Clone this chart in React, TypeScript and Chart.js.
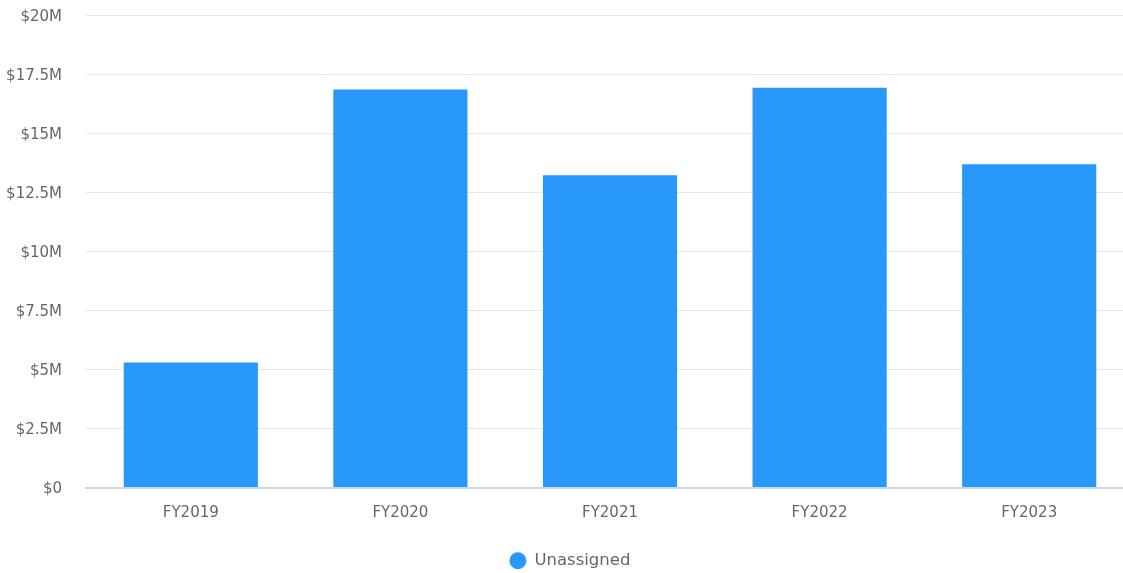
import React, { useEffect, useRef } from "react";
import { Chart, registerables } from "chart.js";

Chart.register(...registerables);

const categories = ["FY2019", "FY2020", "FY2021", "FY2022", "FY2023"];
const seriesName = "Unassigned";
const values = [5.29e6, 16.85e6, 13.22e6, 16.92e6, 13.68e6];
const yTicks = [0, 2.5e6, 5e6, 7.5e6, 10e6, 12.5e6, 15e6, 17.5e6, 20e6];

const fontFamily = "'DejaVu Sans', 'Noto Sans', sans-serif";
const textColor = "#666666";

// The drawing surface runs a little past the visible frame on the right,
// so the last column's plot area is clipped by the container.
const VIEW_W = 1123;
const VIEW_H = 573;
const CANVAS_W = 1134;

function formatMoney(v: number): string {
  if (v === 0) return "$0";
  return "$" + v / 1e6 + "M";
}

export default function App() {
  const canvasRef = useRef<HTMLCanvasElement | null>(null);

  useEffect(() => {
    if (!canvasRef.current) return;
    const chart = new Chart(canvasRef.current, {
      type: "bar",
      data: {
        labels: categories,
        datasets: [
          {
            label: seriesName,
            data: values,
            backgroundColor: "#2898FA",
            borderWidth: 0,
            categoryPercentage: 0.8,
            barPercentage: 0.8,
          },
        ],
      },
      options: {
        animation: false,
        responsive: false,
        maintainAspectRatio: false,
        layout: { padding: { left: 6, top: 15, right: 0, bottom: -6 } },
        plugins: {
          tooltip: { enabled: false },
          legend: {
            position: "bottom",
            labels: {
              usePointStyle: true,
              pointStyle: "circle",
              boxHeight: 12,
              padding: 3,
              color: textColor,
              font: { family: fontFamily, size: 16.5 },
            },
          },
        },
        scales: {
          x: {
            afterFit: (scale: any) => {
              scale.height = 62;
            },
            grid: { display: false, drawTicks: false },
            border: { display: true, color: "#C9D7EF", width: 2 },
            ticks: {
              color: textColor,
              padding: 17,
              font: { family: fontFamily, size: 15 },
            },
          },
          y: {
            min: 0,
            max: 20e6,
            afterFit: (scale: any) => {
              scale.width = 80;
              scale.paddingTop = 0;
              scale.paddingBottom = 0;
            },
            afterBuildTicks: (scale: any) => {
              scale.ticks = yTicks.map((v) => ({ value: v }));
            },
            grid: { color: "#E6E6E6", lineWidth: 1, drawTicks: false },
            border: { display: false },
            ticks: {
              color: textColor,
              padding: 24,
              labelOffset: 2,
              font: { family: fontFamily, size: 15 },
              callback: (v: any) => formatMoney(Number(v)),
            },
          },
        },
      },
    });
    return () => chart.destroy();
  }, []);

  return (
    <div
      style={{
        position: "absolute",
        left: 0,
        top: 0,
        width: VIEW_W,
        height: VIEW_H,
        background: "#fff",
        overflow: "hidden",
      }}
    >
      <canvas ref={canvasRef} width={CANVAS_W} height={VIEW_H} style={{ display: "block" }} />
    </div>
  );
}
